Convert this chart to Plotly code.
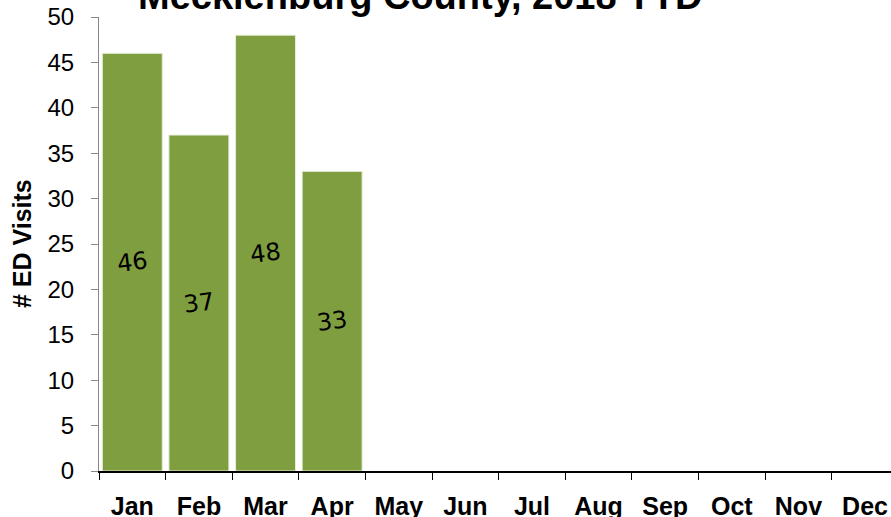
import plotly.graph_objects as go

months = ["Jan", "Feb", "Mar", "Apr", "May", "Jun", "Jul", "Aug", "Sep", "Oct", "Nov", "Dec"]
visits = [46, 37, 48, 33, None, None, None, None, None, None, None, None]
labels = ["46", "37", "48", "33", "", "", "", "", "", "", "", ""]
title_text = "Mecklenburg County, 2018 YTD"
y_title = "# ED Visits"

fig = go.Figure()
fig.add_trace(go.Bar(
    x=months, y=visits, text=labels,
    marker=dict(color="#7F9E40", line=dict(color="#E6EDD8", width=1)),
    textposition="inside", insidetextanchor="middle", textangle=-7,
    constraintext="none",
    insidetextfont=dict(family="DejaVu Sans", size=24, color="black"),
    cliponaxis=False, hoverinfo="skip",
))

fig.add_annotation(
    text="<b>" + title_text + "</b>", xref="paper", yref="paper",
    x=(420 - 99) / (891 - 99), y=1, xanchor="center", yanchor="bottom", yshift=-2,
    showarrow=False, font=dict(family="Liberation Sans, Arial", size=38, color="black"),
)
fig.add_annotation(
    text="<b>" + y_title + "</b>", xref="paper", yref="paper",
    x=-(99 - 22) / (891 - 99), y=0.5, xanchor="center", yanchor="middle", textangle=-90,
    showarrow=False, font=dict(family="Liberation Sans, Arial", size=25, color="black"),
)

fig.update_layout(
    width=891, height=517,
    margin=dict(l=99, r=0, t=17, b=46),
    paper_bgcolor="white", plot_bgcolor="white",
    bargap=0.1, showlegend=False,
    font=dict(family="Liberation Sans, Arial", color="black"),
)
fig.update_xaxes(
    type="category", range=[-0.5, 11.39], tickson="boundaries", automargin=False,
    ticks="outside", ticklen=7, tickcolor="black", tickwidth=1,
    showline=True, linecolor="black", linewidth=1.5,
    showgrid=False, zeroline=False,
    tickfont=dict(family="Liberation Sans, Arial", size=25, color="black"),
    ticklabelstandoff=12,
    tickprefix="<b>", ticksuffix="</b>",
)
fig.update_yaxes(
    range=[0, 50], dtick=5, tick0=0, automargin=False,
    ticks="outside", ticklen=7, tickcolor="#888888", tickwidth=1,
    showline=True, linecolor="#888888", linewidth=1,
    showgrid=False, zeroline=False,
    tickfont=dict(family="Liberation Sans, Arial", size=24, color="black"),
    ticklabelstandoff=12,
)

fig.write_html("out.html", config={"displayModeBar": False, "staticPlot": True},
               post_script="document.body.style.margin='0';document.body.style.overflow='hidden';")
